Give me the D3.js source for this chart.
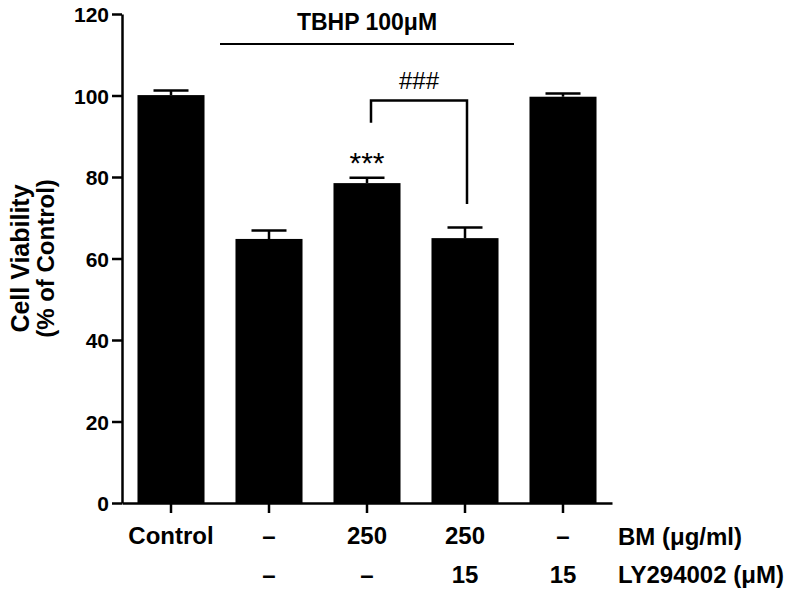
<html>
<head>
  <script src="https://d3js.org/d3.v7.min.js" charset="utf-8"></script>
  <title>Cell Viability</title>
  <style>
  body { margin: 0; background: #fff; }
  svg { background-color: #fff; font-family: "Liberation Sans", Arial, sans-serif; }
  </style>
</head>
<body>
  <div id="svg"></div>
  <script>

  // data
  var groups = ["Control", "TBHP", "TBHP+BM", "TBHP+BM+LY", "LY"];
  var means = [100.1, 64.8, 78.5, 65.0, 99.7];
  var errors = [1.1, 2.1, 1.3, 2.6, 0.8];
  var bmLabels = ["Control", "\u2013", "250", "250", "\u2013"];
  var lyLabels = ["", "\u2013", "\u2013", "15", "15"];
  var yTicks = [0, 20, 40, 60, 80, 100, 120];

  var width = 800,
    height = 593;

  var svg = d3.select("#svg").append("svg").attr("width", width).attr("height", height);

  var x = d3.scaleBand().domain(groups).range([122, 612])
    .paddingInner(0.316).paddingOuter(0.158);
  var y = d3.scaleLinear().domain([0, 120]).range([503, 14]);

  // bars
  svg.selectAll(".bar").data(groups).enter()
    .append("rect")
    .attr("class", "bar")
    .attr("x", function(d) { return x(d); })
    .attr("width", x.bandwidth())
    .attr("y", function(d, i) { return y(means[i]); })
    .attr("height", function(d, i) { return y(0) - y(means[i]); })
    .attr("fill", "#000");

  // error bars (upper only)
  var capW = 35;
  svg.selectAll(".err").data(groups).enter()
    .append("path")
    .attr("class", "err")
    .attr("d", function(d, i) {
      var cx = x(d) + x.bandwidth() / 2;
      return "M" + cx + "," + y(means[i]) + "V" + y(means[i] + errors[i]) +
        "M" + (cx - capW / 2) + "," + y(means[i] + errors[i]) + "H" + (cx + capW / 2);
    })
    .attr("stroke", "#000").attr("stroke-width", 2.5).attr("fill", "none");

  // axes
  var yAxis = svg.append("g").attr("transform", "translate(122,0)")
    .call(d3.axisLeft(y).tickValues(yTicks).tickSize(10).tickSizeOuter(0).tickPadding(3));
  yAxis.attr("font-family", null);
  yAxis.selectAll("text").style("font-size", "21px").style("font-weight", "bold").attr("dy", "0.36em");

  var xAxis = svg.append("g").attr("transform", "translate(0,503)")
    .call(d3.axisBottom(x).tickSize(10).tickSizeOuter(0).tickFormat(""));

  svg.selectAll(".domain, .tick line").attr("stroke", "#000").attr("stroke-width", 2.5);

  // category rows
  svg.selectAll(".bm").data(groups).enter()
    .append("text").attr("class", "bm")
    .attr("x", function(d) { return x(d) + x.bandwidth() / 2; })
    .attr("y", 544)
    .attr("text-anchor", "middle")
    .style("font-size", "24px").style("font-weight", "bold")
    .text(function(d, i) { return bmLabels[i]; });

  svg.selectAll(".ly").data(groups).enter()
    .append("text").attr("class", "ly")
    .attr("x", function(d) { return x(d) + x.bandwidth() / 2; })
    .attr("y", 583)
    .attr("text-anchor", "middle")
    .style("font-size", "24px").style("font-weight", "bold")
    .text(function(d, i) { return lyLabels[i]; });

  svg.append("text").attr("x", 618).attr("y", 545)
    .style("font-size", "24px").style("font-weight", "bold").text("BM (\u03bcg/ml)");
  svg.append("text").attr("x", 618).attr("y", 583)
    .style("font-size", "24px").style("font-weight", "bold").text("LY294002 (\u03bcM)");

  // y title
  var yt = svg.append("g").attr("transform", "rotate(-90)");
  yt.append("text").attr("x", -(y(0) + y(120)) / 2).attr("y", 29)
    .attr("text-anchor", "middle").style("font-size", "25px").style("font-weight", "bold")
    .text("Cell Viability");
  yt.append("text").attr("x", -(y(0) + y(120)) / 2).attr("y", 54)
    .attr("text-anchor", "middle").style("font-size", "24px").style("font-weight", "bold")
    .text("(% of Control)");

  // TBHP bracket line
  var gap = x.step() * x.paddingInner() / 2;
  svg.append("line")
    .attr("x1", x(groups[1]) - gap).attr("x2", x(groups[3]) + x.bandwidth() + gap)
    .attr("y1", 44).attr("y2", 44)
    .attr("stroke", "#000").attr("stroke-width", 2);
  svg.append("text")
    .attr("x", (x(groups[1]) + x(groups[3]) + x.bandwidth()) / 2).attr("y", 30)
    .attr("text-anchor", "middle").style("font-size", "23px").style("font-weight", "bold")
    .text("TBHP 100\u03bcM");

  // significance
  var c3 = x(groups[2]) + x.bandwidth() / 2 + 4,
    c4 = x(groups[3]) + x.bandwidth() / 2 + 2;
  svg.append("path")
    .attr("d", "M" + c3 + "," + y(93.3) + "V" + y(98.8) + "H" + c4 + "V" + y(73.4))
    .attr("stroke", "#000").attr("stroke-width", 2.5).attr("fill", "none");
  svg.append("text").attr("x", (c3 + c4) / 2).attr("y", 89)
    .attr("text-anchor", "middle").style("font-size", "24px")
    .text("###");
  svg.append("text").attr("x", x(groups[2]) + x.bandwidth() / 2).attr("y", 173)
    .attr("text-anchor", "middle").style("font-size", "30px")
    .text("***");

  </script>
</body>
</html>
